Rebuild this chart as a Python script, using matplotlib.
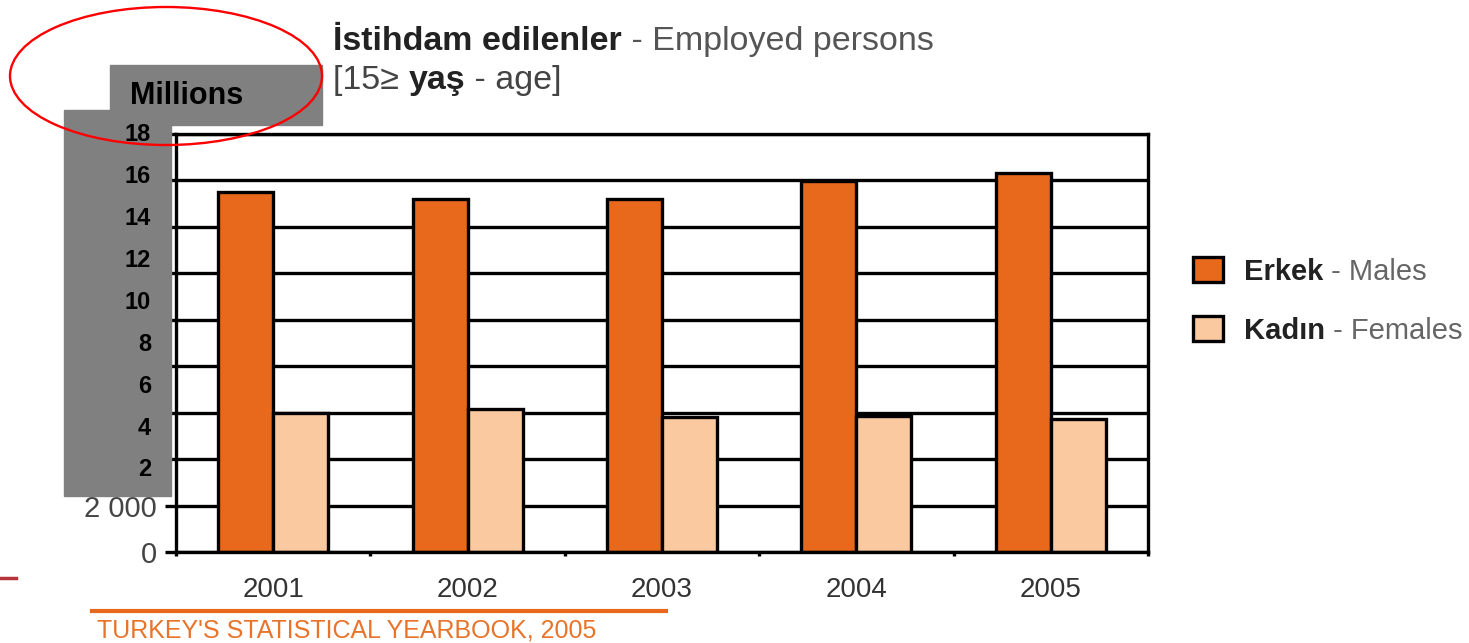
import numpy as np
import matplotlib
matplotlib.use("Agg")
import matplotlib.pyplot as plt
from matplotlib.patches import Rectangle, Ellipse
from matplotlib.lines import Line2D

plt.rcParams['font.family'] = ['Liberation Sans', 'DejaVu Sans']

# data (thousands of persons)
years = ['2001', '2002', '2003', '2004', '2005']
males = [15490, 15190, 15200, 15990, 16330]
females = [5970, 6140, 5830, 5850, 5710]
y_ticks = list(range(0, 18001, 2000))
# only the two lowest labels show; the rest sit under the grey box
y_ticklabels = ['0', '2 000'] + [''] * (len(y_ticks) - 2)
overlay_labels = ['18', '16', '14', '12', '10', '8', '6', '4', '2']

male_col = '#E8691C'
female_col = '#FAC9A0'

W, H = 1469, 643
fig = plt.figure(figsize=(W / 100, H / 100), dpi=100)

def fx(px):
    return px / W

def fy(py):
    return 1 - py / H

ax = fig.add_axes([fx(176), fy(552), fx(1148 - 176), (552 - 134) / H])

x = np.arange(len(years))
bw = 0.283
b1 = ax.bar(x - bw / 2, males, bw, color=male_col, edgecolor='black', lw=2.4, zorder=2)
b2 = ax.bar(x + bw / 2, females, bw, color=female_col, edgecolor='black', lw=2.4, zorder=2)

ax.set_xlim(-0.5, len(years) - 0.5)
ax.set_ylim(0, 18000)
ax.set_yticks(y_ticks)
ax.set_yticklabels(y_ticklabels, fontsize=21, color='#444444')
ax.yaxis.grid(True, color='black', lw=2.4)
ax.set_axisbelow(True)
ax.tick_params(axis='y', length=8, width=2.4, pad=5.5)

ax.set_xticks(x)
ax.set_xticklabels(years, fontsize=20, color='#333333')
ax.set_xticks(np.arange(-0.5, len(years), 1), minor=True)
ax.tick_params(axis='x', which='major', length=0, pad=18)
ax.tick_params(axis='x', which='minor', length=3, width=2.4)
for s in ax.spines.values():
    s.set_linewidth(2.4)
    s.set_color('black')

# legend
leg = fig.legend([b1, b2], ['Erkek', 'Kadın'], loc='center left',
                 bbox_to_anchor=(fx(1193), fy(301)), frameon=False,
                 fontsize=21, handlelength=1.03, handleheight=0.93,
                 handletextpad=0.72, labelspacing=1.05, borderpad=0,
                 borderaxespad=0)
for t in leg.get_texts():
    t.set_fontweight('bold')
    t.set_color('#222222')

# title pieces
t1 = fig.text(fx(333), fy(50), 'İstihdam edilenler', fontsize=24.5,
              fontweight='bold', color='#222222', va='baseline')
t2 = fig.text(fx(333), fy(89), '[15≥ ', fontsize=24.5, color='#444444', va='baseline')

# gray overlay boxes with "Millions" labels
fig.add_artist(Rectangle((fx(64), fy(496)), fx(171 - 64), (496 - 110) / H,
                         transform=fig.transFigure, color='#808080', zorder=3))
fig.add_artist(Rectangle((fx(110), fy(125)), fx(322 - 110), (125 - 65) / H,
                         transform=fig.transFigure, color='#808080', zorder=3))
fig.text(fx(130), fy(96), 'Millions', fontsize=22, fontweight='bold',
         va='center', ha='left', zorder=4)
for lab, py in zip(overlay_labels, np.linspace(134.5, 470, len(overlay_labels))):
    fig.text(fx(151), fy(py), lab, fontsize=17, fontweight='bold',
             ha='right', va='center', zorder=4)

fig.add_artist(Ellipse((fx(166), fy(76)), fx(312), 138 / H,
                       transform=fig.transFigure, fill=False,
                       edgecolor='red', lw=1.7, zorder=5))

# footer
fig.add_artist(Line2D([fx(92), fx(666)], [fy(611), fy(611)], color='#E8691C', lw=3))
fig.text(fx(97), fy(637.5), "TURKEY'S STATISTICAL YEARBOOK, 2005", fontsize=18,
         color='#E8732A', va='baseline')
fig.add_artist(Line2D([0, fx(16)], [fy(578), fy(578)], color='#B5353A', lw=2.5))

# text that follows a bold word: place after a draw, right of its extent
fig.canvas.draw()
r = fig.canvas.get_renderer()

def after(txt, s, y, **kw):
    bb = txt.get_window_extent(renderer=r)
    return fig.text(bb.x1 / W, y, s, va='baseline', **kw)

for t, s in zip(leg.get_texts(), [' - Males', ' - Females']):
    bb = t.get_window_extent(renderer=r)
    fig.text(bb.x1 / W, bb.y0 / H, s, va='bottom', fontsize=21, color='#666666')

after(t1, ' - Employed persons', fy(50), fontsize=24.5, color='#555555')
t3 = after(t2, 'yaş', fy(89), fontsize=24.5, fontweight='bold', color='#222222')
fig.canvas.draw()
after(t3, ' - age]', fy(89), fontsize=24.5, color='#444444')

fig.savefig('out.png', dpi=100)
